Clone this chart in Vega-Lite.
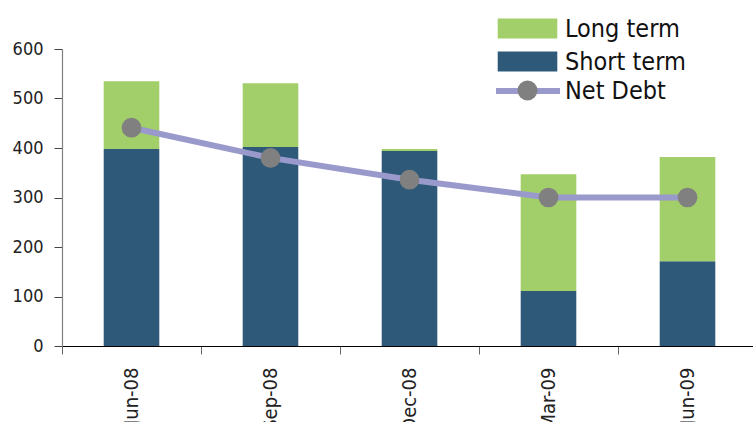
{
  "$schema": "https://vega.github.io/schema/vega-lite/v6.json",
  "autosize": {"type": "none"},
  "padding": {"left": 62, "top": 49, "right": 0, "bottom": 76},
  "width": 695,
  "height": 297,
  "background": "white",
  "config": {
    "font": "DejaVu Sans Condensed",
    "view": {"stroke": null},
    "axis": {"grid": false, "labelFont": "DejaVu Sans Condensed", "labelColor": "#222222"},
    "legend": {"padding": 0, "labelFont": "DejaVu Sans Condensed", "labelFontSize": 25, "labelColor": "#111111", "labelLimit": 400}
  },
  "datasets": {
    "debt": [
      {"period": "Jun-08", "type": "Short term", "value": 398},
      {"period": "Jun-08", "type": "Long term", "value": 137},
      {"period": "Sep-08", "type": "Short term", "value": 402},
      {"period": "Sep-08", "type": "Long term", "value": 129},
      {"period": "Dec-08", "type": "Short term", "value": 394},
      {"period": "Dec-08", "type": "Long term", "value": 4},
      {"period": "Mar-09", "type": "Short term", "value": 111},
      {"period": "Mar-09", "type": "Long term", "value": 236},
      {"period": "Jun-09", "type": "Short term", "value": 171},
      {"period": "Jun-09", "type": "Long term", "value": 211}
    ],
    "net": [
      {"period": "Jun-08", "series": "Net Debt", "net": 441},
      {"period": "Sep-08", "series": "Net Debt", "net": 380},
      {"period": "Dec-08", "series": "Net Debt", "net": 336},
      {"period": "Mar-09", "series": "Net Debt", "net": 300},
      {"period": "Jun-09", "series": "Net Debt", "net": 300}
    ]
  },
  "encoding": {
    "x": {
      "field": "period",
      "type": "nominal",
      "sort": ["Jun-08", "Sep-08", "Dec-08", "Mar-09", "Jun-09"],
      "scale": {"paddingInner": 0, "paddingOuter": 0},
      "axis": {
        "title": null,
        "labelAngle": 270,
        "labelFontSize": 20,
        "labelPadding": 13,
        "tickSize": 8,
        "tickBand": "extent",
        "tickColor": "#666666",
        "domainColor": "#000000",
        "domainWidth": 1.2
      }
    }
  },
  "layer": [
    {
      "data": {"name": "debt"},
      "mark": {"type": "bar", "width": {"band": 0.4}},
      "encoding": {
        "y": {
          "field": "value",
          "type": "quantitative",
          "stack": "zero",
          "scale": {"domain": [0, 600], "nice": false},
          "axis": {
            "title": null,
            "values": [0, 100, 200, 300, 400, 500, 600],
            "labelFontSize": 18,
            "labelPadding": 11,
            "tickSize": 8,
            "tickColor": "#444444",
            "domainColor": "#808080",
            "domainWidth": 1.2
          }
        },
        "color": {
          "field": "type",
          "type": "nominal",
          "scale": {"domain": ["Long term", "Short term"], "range": ["#A2CF69", "#2E5979"]},
          "legend": {
            "title": null,
            "orient": "none",
            "legendX": 453,
            "legendY": -33,
            "symbolType": "M-2.98,-1H2.98V1H-2.98Z",
            "symbolSize": 400,
            "symbolStrokeWidth": 0,
            "symbolOpacity": 1,
            "labelOffset": 25,
            "rowPadding": 7
          }
        },
        "order": {"field": "type", "sort": "descending"}
      }
    },
    {
      "data": {"name": "net"},
      "mark": {"type": "line", "strokeWidth": 6},
      "encoding": {
        "y": {"field": "net", "type": "quantitative"},
        "stroke": {
          "datum": "Net Debt",
          "scale": {"range": ["#9999CC"]},
          "legend": {
            "title": null,
            "orient": "none",
            "legendX": 453,
            "legendY": 29,
            "symbolType": "M-3.2,0H-0.9M0.9,0H3.2",
            "symbolSize": 400,
            "symbolStrokeWidth": 6,
            "labelOffset": 25,
            "labelOpacity": 0
          }
        }
      }
    },
    {
      "data": {"name": "net"},
      "mark": {"type": "point", "filled": true, "opacity": 1, "color": "#808080", "size": 390},
      "encoding": {
        "y": {"field": "net", "type": "quantitative"},
        "shape": {
          "field": "series",
          "type": "nominal",
          "scale": {"range": ["circle"]},
          "legend": {
            "title": null,
            "orient": "none",
            "legendX": 453,
            "legendY": 29,
            "symbolSize": 400,
            "symbolFillColor": "#808080",
            "symbolStrokeWidth": 0,
            "symbolOpacity": 1,
            "labelOffset": 25
          }
        }
      }
    }
  ]
}
